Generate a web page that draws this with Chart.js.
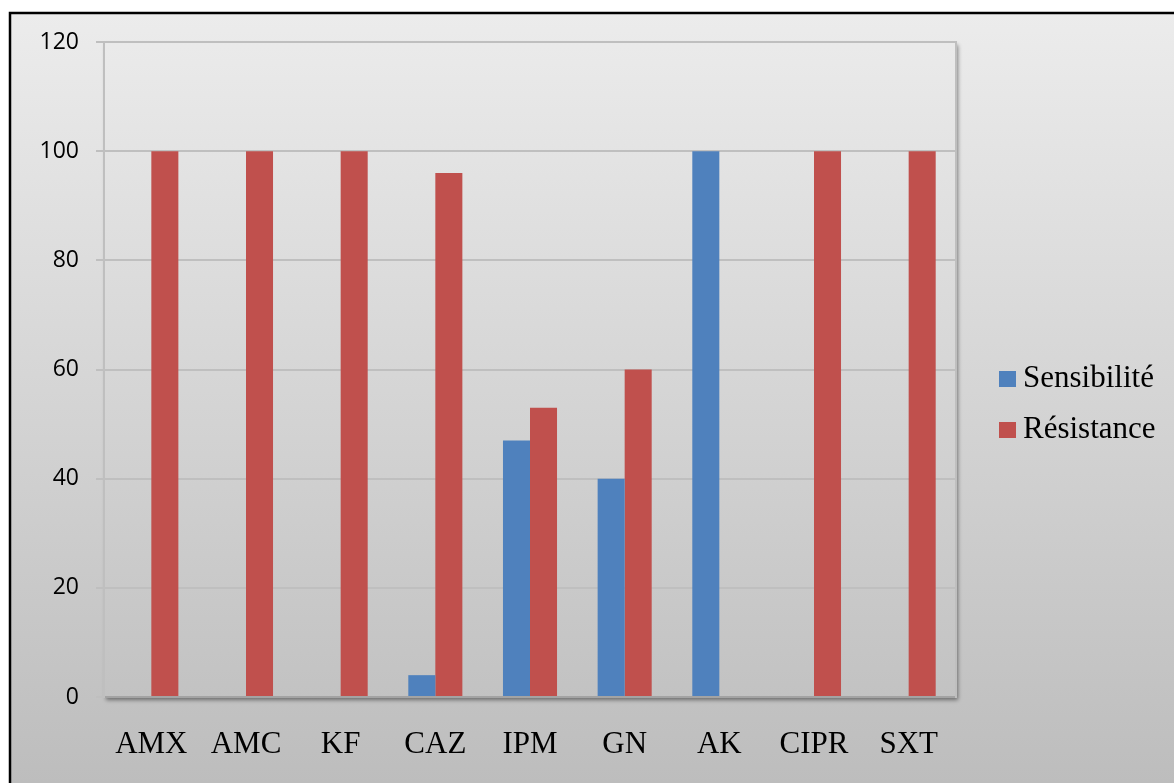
<!DOCTYPE html>
<html>
<head>
<meta charset="utf-8">
<script src="https://cdn.jsdelivr.net/npm/chart.js@4.4.0/dist/chart.umd.min.js"></script>
<style>
  html, body { margin: 0; padding: 0; background: #fff; overflow: hidden; }
  #wrap { position: relative; width: 1174px; height: 783px; }
</style>
</head>
<body>
<div id="wrap"><canvas id="chart"></canvas></div>
<script>
const categories = ['AMX', 'AMC', 'KF', 'CAZ', 'IPM', 'GN', 'AK', 'CIPR', 'SXT'];
const sensibilite = [0, 0, 0, 4, 47, 40, 100, 0, 0];
const resistance = [100, 100, 100, 96, 53, 60, 0, 100, 100];
const seriesNames = ['Sensibilité', 'Résistance'];
const seriesColors = ['#4f81bd', '#c0504d'];
const yTicks = [0, 20, 40, 60, 80, 100, 120];

const serifFamily = '"Liberation Serif", "Times New Roman", serif';
const legendFontSize = 31;

// small square used as legend marker, so the gap to the text stays tight
function swatch(color) {
  const c = document.createElement('canvas');
  c.width = 17;
  c.height = 16;
  const g = c.getContext('2d');
  g.fillStyle = color;
  g.fillRect(0, 0, 17, 16);
  return c;
}

// widest legend text, so the legend box ends right after it and the text starts where wanted
const measureCtx = document.createElement('canvas').getContext('2d');
measureCtx.font = `normal normal ${legendFontSize}px ${serifFamily}`;
const legendTextWidth = Math.max(...seriesNames.map(s => measureCtx.measureText(s).width));
const rightPadding = Math.max(0, 141 - legendTextWidth);

// page background, black frame and plot area shadow
const backdrop = {
  id: 'backdrop',
  beforeDraw(chart) {
    const {ctx, width, height, chartArea} = chart;
    ctx.save();
    ctx.fillStyle = '#ffffff';
    ctx.fillRect(0, 0, width, height);
    const grad = ctx.createLinearGradient(0, 13, 0, height);
    grad.addColorStop(0, '#ececec');
    grad.addColorStop(1, '#bdbdbd');
    ctx.fillStyle = grad;
    ctx.fillRect(10, 13, width - 10, height - 13);
    ctx.strokeStyle = '#000';
    ctx.lineWidth = 2.5;
    ctx.beginPath();
    ctx.moveTo(10, height);
    ctx.lineTo(10, 13);
    ctx.lineTo(width, 13);
    ctx.stroke();
    ctx.shadowColor = 'rgba(0, 0, 0, 0.45)';
    ctx.shadowBlur = 4;
    ctx.shadowOffsetX = 2;
    ctx.shadowOffsetY = 3;
    ctx.fillStyle = grad;
    ctx.fillRect(chartArea.left, chartArea.top, chartArea.width, chartArea.height);
    ctx.restore();
  },
};

new Chart(document.getElementById('chart'), {
  type: 'bar',
  data: {
    labels: categories,
    datasets: [
      {label: seriesNames[0], data: sensibilite, backgroundColor: seriesColors[0]},
      {label: seriesNames[1], data: resistance, backgroundColor: seriesColors[1]},
    ],
  },
  options: {
    responsive: true,
    maintainAspectRatio: false,
    animation: false,
    categoryPercentage: 0.571,
    barPercentage: 1,
    layout: {
      padding: {top: 42, left: 12, right: rightPadding, bottom: 17},
    },
    scales: {
      x: {
        grid: {display: false, drawTicks: false},
        border: {display: true, color: '#a3a3a3', width: 2},
        ticks: {
          color: '#000',
          font: {family: serifFamily, size: 31},
          padding: 29,
          maxRotation: 0,
          autoSkip: false,
        },
        afterFit(scale) { scale.height = 69; },
      },
      y: {
        min: 0,
        max: 120,
        afterBuildTicks(scale) { scale.ticks = yTicks.map(v => ({value: v})); },
        grid: {color: '#bfbfbf', lineWidth: 2, tickLength: 8},
        border: {display: true, color: '#bfbfbf', width: 2},
        ticks: {
          color: '#000',
          font: {family: '"Open Sans", sans-serif', size: 23},
          padding: 17,
        },
        afterFit(scale) { scale.width = 92; },
      },
      // empty axis, only there for the right edge of the plot area and the space before the legend
      edge: {
        type: 'linear',
        position: 'right',
        grid: {display: false, drawTicks: false},
        ticks: {display: false},
        border: {display: true, color: '#bfbfbf', width: 2},
        afterFit(scale) { scale.width = 30.5; },
      },
    },
    plugins: {
      tooltip: {enabled: false},
      legend: {
        position: 'right',
        labels: {
          color: '#000',
          font: {family: serifFamily, size: legendFontSize},
          usePointStyle: true,
          boxWidth: 1,
          padding: 20,
          generateLabels(chart) {
            const items = Chart.defaults.plugins.legend.labels.generateLabels(chart);
            items.forEach((item, i) => { item.pointStyle = swatch(seriesColors[i]); });
            return items;
          },
        },
      },
    },
  },
  plugins: [backdrop],
});
</script>
</body>
</html>
